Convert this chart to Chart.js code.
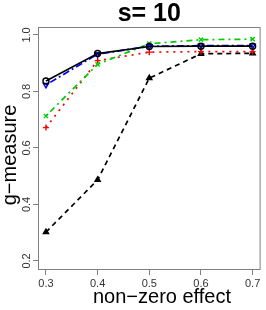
<!DOCTYPE html>
<html>
<head>
<meta charset="utf-8">
<script src="https://cdn.jsdelivr.net/npm/chart.js@4"></script>
<style>
  html, body { margin: 0; padding: 0; background: #fff; }
  #wrap { width: 266px; height: 310px; }
</style>
</head>
<body>
<div id="wrap"><canvas id="chart" width="266" height="310"></canvas></div>
<script>
  // ---- DATA ----
  const effects = [0.3, 0.4, 0.5, 0.6, 0.7];
  const blackSolid = [0.837, 0.934, 0.959, 0.960, 0.960];
  const blueDashDot = [0.823, 0.932, 0.960, 0.962, 0.962];
  const greenDashDot = [0.713, 0.896, 0.969, 0.983, 0.985];
  const redDotted = [0.672, 0.909, 0.939, 0.941, 0.941];
  const blackDashed = [0.302, 0.487, 0.847, 0.933, 0.935];
  const xTicks = [0.3, 0.4, 0.5, 0.6, 0.7];
  const yTicks = [0.2, 0.4, 0.6, 0.8, 1.0];
  const titleText = 's= 10';
  const xTitle = 'non\u2212zero effect';
  const yTitle = 'g\u2212measure';

  const FONT = "'Liberation Sans', Arial, Helvetica, sans-serif";
  const AXIS_COL = '#808080';

  function pts(vals) {
    return effects.map((x, i) => ({ x, y: vals[i] }));
  }

  function series(vals, color, dash, style, filled, rot) {
    return {
      data: pts(vals),
      borderColor: color,
      borderWidth: 1.7,
      borderDash: dash,
      tension: 0,
      pointStyle: style,
      pointRotation: rot || 0,
      pointRadius: 3,
      pointBorderWidth: 1.4,
      pointBorderColor: color,
      pointBackgroundColor: filled ? color : 'rgba(0,0,0,0)',
    };
  }

  // box + y tick labels + axis titles
  const decor = {
    id: 'decor',
    afterDraw(chart) {
      const c = chart.ctx;
      const a = chart.chartArea;
      c.save();
      c.strokeStyle = AXIS_COL;
      c.lineWidth = 1;
      c.strokeRect(a.left + 0.5, a.top + 0.5, a.right - a.left - 1, a.bottom - a.top - 1);

      const ys = chart.scales.y;
      c.fillStyle = '#333';
      c.font = '11px ' + FONT;
      c.textAlign = 'center';
      c.textBaseline = 'middle';
      yTicks.forEach(v => {
        const py = ys.getPixelForValue(v);
        c.save();
        c.translate(27, py);
        c.rotate(-Math.PI / 2);
        c.fillText(v.toFixed(1), 0, 0);
        c.restore();
      });

      c.fillStyle = '#000';
      c.font = '20px ' + FONT;
      c.fillText(xTitle, 162, 297);
      c.save();
      c.translate(10, 155);
      c.rotate(-Math.PI / 2);
      c.fillText(yTitle, 0, 0);
      c.restore();
      c.restore();
    }
  };

  new Chart(document.getElementById('chart'), {
    type: 'line',
    data: {
      datasets: [
        series(blackSolid, '#000000', [], 'circle', false),
        series(blueDashDot, '#0000ff', [2, 3, 7, 3], 'triangle', false, 180),
        series(greenDashDot, '#00cc00', [2, 4, 6, 4], 'crossRot', false),
        series(redDotted, '#ff0000', [2, 5], 'cross', false),
        series(blackDashed, '#000000', [5, 4], 'triangle', true),
      ]
    },
    options: {
      responsive: false,
      animation: false,
      layout: { padding: { top: 0, right: 4, left: 0, bottom: 0 } },
      plugins: {
        legend: { display: false },
        tooltip: { enabled: false },
        title: {
          display: true,
          fullSize: false,
          text: titleText,
          color: '#000',
          font: { family: FONT, size: 25, weight: 'bold', lineHeight: 1 },
          padding: { top: 2, bottom: 0 }
        }
      },
      scales: {
        x: {
          type: 'linear',
          min: 0.2846,
          max: 0.7154,
          afterBuildTicks: s => { s.ticks = xTicks.map(v => ({ value: v })); },
          afterFit: s => { s.height = 40; },
          grid: { drawOnChartArea: false, drawTicks: true, tickLength: 5, color: AXIS_COL },
          border: { display: false },
          ticks: {
            color: '#333',
            font: { family: FONT, size: 11 },
            padding: 2,
            maxRotation: 0,
            autoSkip: false,
            callback: v => v.toFixed(1)
          }
        },
        y: {
          type: 'linear',
          min: 0.168,
          max: 1.028,
          afterBuildTicks: s => { s.ticks = yTicks.map(v => ({ value: v })); },
          afterFit: s => { s.width = 38; },
          grid: { drawOnChartArea: false, drawTicks: true, tickLength: 5, color: AXIS_COL },
          border: { display: false },
          ticks: { display: false }
        }
      }
    },
    plugins: [decor]
  });
</script>
</body>
</html>
